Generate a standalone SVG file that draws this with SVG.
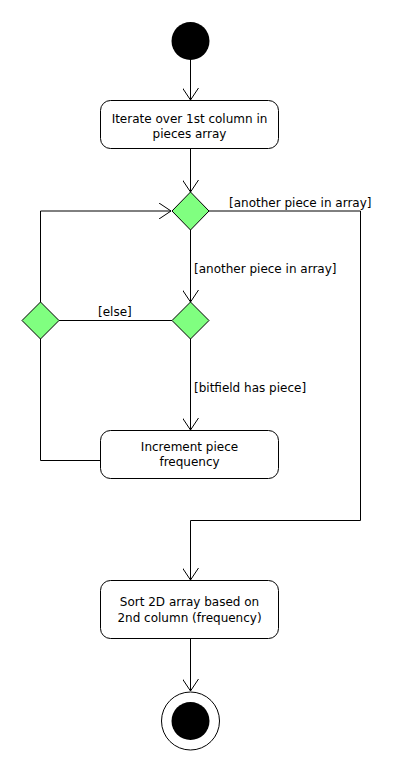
<svg xmlns="http://www.w3.org/2000/svg" width="410" height="770" viewBox="0 0 410 770">
<style>
.box{fill:#fff;stroke:#000;stroke-width:1}
.dec{fill:#80ff80;stroke:#000;stroke-width:1}
.edge{fill:none;stroke:#000;stroke-width:1}
text{font-family:"DejaVu Sans",sans-serif;font-size:12px;fill:#000}
.c{text-anchor:middle}
</style>
<defs>
<marker id="arr" viewBox="0 0 13 16" refX="12" refY="8" markerWidth="13" markerHeight="16" markerUnits="userSpaceOnUse" orient="auto">
<path d="M0,0 L12,8 L0,16" fill="none" stroke="#000" stroke-width="1"/>
</marker>
</defs>
<rect width="410" height="770" fill="#fff"/>
<g id="connectors">
<path class="edge" d="M190.5,60 V100" marker-end="url(#arr)"/>
<path class="edge" d="M190.5,149 V192" marker-end="url(#arr)"/>
<path class="edge" d="M209,211 H360.5 V520.5 H190.5 V580" marker-end="url(#arr)"/>
<path class="edge" d="M190.5,230 V302" marker-end="url(#arr)"/>
<path class="edge" d="M172,320.5 H59"/>
<path class="edge" d="M40.5,302 V211 H171" marker-end="url(#arr)"/>
<path class="edge" d="M40.5,339 V460.5 H100"/>
<path class="edge" d="M190.5,339 V430" marker-end="url(#arr)"/>
<path class="edge" d="M190.5,639 V691" marker-end="url(#arr)"/>
<text x="229" y="207">[another piece in array]</text>
<text x="194" y="273">[another piece in array]</text>
<text x="98" y="316">[else]</text>
<text x="194" y="392">[bitfield has piece]</text>
</g>
<g id="start"><circle cx="190.5" cy="41" r="19" fill="#000"/></g>
<g id="iterate">
<rect class="box" x="100.5" y="100.5" width="178" height="48" rx="10"/>
<text class="c" x="189.5" y="123">Iterate over 1st column in</text>
<text class="c" x="189.5" y="138">pieces array</text>
</g>
<g id="dec1"><path class="dec" d="M190.5,192 L209,211 L190.5,230 L172,211 Z"/></g>
<g id="dec2"><path class="dec" d="M190.5,302 L209,320.5 L190.5,339 L172,320.5 Z"/></g>
<g id="dec3"><path class="dec" d="M40.5,302 L59,320.5 L40.5,339 L22,320.5 Z"/></g>
<g id="increment">
<rect class="box" x="100.5" y="430.5" width="178" height="48" rx="10"/>
<text class="c" x="189.5" y="451">Increment piece</text>
<text class="c" x="189.5" y="466">frequency</text>
</g>
<g id="sort">
<rect class="box" x="100.5" y="580.5" width="178" height="58" rx="10"/>
<text class="c" x="189.5" y="606">Sort 2D array based on</text>
<text class="c" x="189.5" y="622">2nd column (frequency)</text>
</g>
<g id="end">
<circle cx="190.5" cy="721" r="29" fill="#fff" stroke="#000"/>
<circle cx="190.5" cy="721" r="19" fill="#000"/>
</g>
</svg>
